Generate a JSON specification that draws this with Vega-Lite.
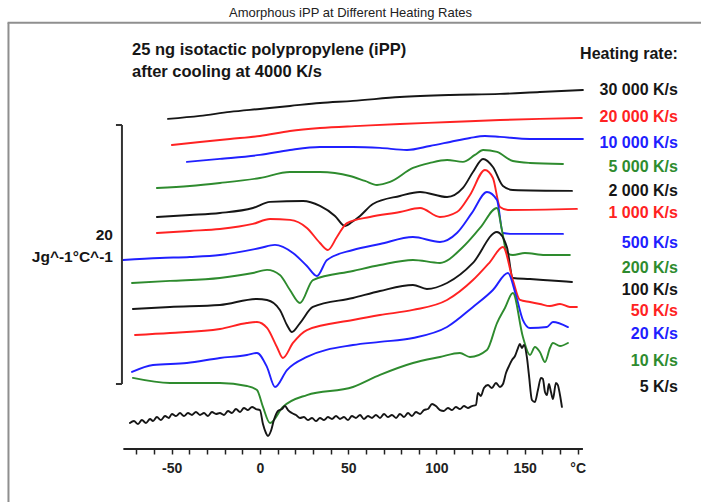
{
  "$schema": "https://vega.github.io/schema/vega-lite/v6.json",
  "width": 701,
  "height": 481,
  "autosize": "none",
  "padding": {"left": 0, "top": 21, "right": 0, "bottom": 0},
  "title": {"text": "Amorphous iPP at Different Heating Rates", "font": "Liberation Sans", "fontSize": 13, "fontWeight": "normal", "color": "#222222", "anchor": "middle", "offset": 1},
  "config": {"view": {"stroke": null}, "font": "Liberation Sans", "axisX": {"labelOverlap": false}},
  "resolve": {"axis": {"x": "independent"}},
  "datasets": {
    "dsc": [
      {"rate": "30 000 K/s", "T": -52.1, "cp": 29.58}, {"rate": "30 000 K/s", "T": -34.0, "cp": 29.81}, {"rate": "30 000 K/s", "T": -17.0, "cp": 30.12}, {"rate": "30 000 K/s", "T": 0.0, "cp": 30.35}, {"rate": "30 000 K/s", "T": 17.0, "cp": 30.58}, {"rate": "30 000 K/s", "T": 34.0, "cp": 30.81}, {"rate": "30 000 K/s", "T": 52.7, "cp": 30.97}, {"rate": "30 000 K/s", "T": 79.3, "cp": 31.27}, {"rate": "30 000 K/s", "T": 107.7, "cp": 31.43}, {"rate": "30 000 K/s", "T": 136.0, "cp": 31.51}, {"rate": "30 000 K/s", "T": 158.6, "cp": 31.66}, {"rate": "30 000 K/s", "T": 183.0, "cp": 31.81},

      {"rate": "20 000 K/s", "T": -49.9, "cp": 27.57}, {"rate": "20 000 K/s", "T": -34.0, "cp": 27.80}, {"rate": "20 000 K/s", "T": -17.0, "cp": 28.03}, {"rate": "20 000 K/s", "T": 0.0, "cp": 28.26}, {"rate": "20 000 K/s", "T": 17.0, "cp": 28.65}, {"rate": "20 000 K/s", "T": 34.0, "cp": 28.88}, {"rate": "20 000 K/s", "T": 56.7, "cp": 29.04}, {"rate": "20 000 K/s", "T": 79.3, "cp": 29.19}, {"rate": "20 000 K/s", "T": 107.7, "cp": 29.34}, {"rate": "20 000 K/s", "T": 136.0, "cp": 29.50}, {"rate": "20 000 K/s", "T": 158.6, "cp": 29.58}, {"rate": "20 000 K/s", "T": 182.4, "cp": 29.65},

      {"rate": "10 000 K/s", "T": -41.4, "cp": 26.26}, {"rate": "10 000 K/s", "T": -22.7, "cp": 26.49}, {"rate": "10 000 K/s", "T": 0.0, "cp": 26.80}, {"rate": "10 000 K/s", "T": 17.0, "cp": 27.18}, {"rate": "10 000 K/s", "T": 34.0, "cp": 27.41}, {"rate": "10 000 K/s", "T": 52.7, "cp": 27.41}, {"rate": "10 000 K/s", "T": 68.0, "cp": 27.34}, {"rate": "10 000 K/s", "T": 83.3, "cp": 27.18}, {"rate": "10 000 K/s", "T": 96.3, "cp": 27.49}, {"rate": "10 000 K/s", "T": 107.7, "cp": 27.80}, {"rate": "10 000 K/s", "T": 119.0, "cp": 28.11}, {"rate": "10 000 K/s", "T": 127.5, "cp": 28.26}, {"rate": "10 000 K/s", "T": 136.0, "cp": 28.19}, {"rate": "10 000 K/s", "T": 153.0, "cp": 28.03}, {"rate": "10 000 K/s", "T": 183.0, "cp": 28.03},

      {"rate": "5 000 K/s", "T": -58.4, "cp": 24.25}, {"rate": "5 000 K/s", "T": -39.7, "cp": 24.40}, {"rate": "5 000 K/s", "T": -22.7, "cp": 24.63}, {"rate": "5 000 K/s", "T": 0.0, "cp": 25.02}, {"rate": "5 000 K/s", "T": 17.0, "cp": 25.48}, {"rate": "5 000 K/s", "T": 34.0, "cp": 25.48}, {"rate": "5 000 K/s", "T": 51.0, "cp": 25.17}, {"rate": "5 000 K/s", "T": 59.5, "cp": 24.79}, {"rate": "5 000 K/s", "T": 66.3, "cp": 24.48}, {"rate": "5 000 K/s", "T": 73.7, "cp": 24.71}, {"rate": "5 000 K/s", "T": 86.7, "cp": 25.79}, {"rate": "5 000 K/s", "T": 96.3, "cp": 26.18}, {"rate": "5 000 K/s", "T": 106.0, "cp": 26.41}, {"rate": "5 000 K/s", "T": 115.0, "cp": 26.26}, {"rate": "5 000 K/s", "T": 121.8, "cp": 26.80}, {"rate": "5 000 K/s", "T": 126.4, "cp": 27.18}, {"rate": "5 000 K/s", "T": 134.3, "cp": 27.03}, {"rate": "5 000 K/s", "T": 143.3, "cp": 26.33}, {"rate": "5 000 K/s", "T": 153.0, "cp": 26.18}, {"rate": "5 000 K/s", "T": 171.7, "cp": 26.10},

      {"rate": "2 000 K/s", "T": -58.4, "cp": 22.01}, {"rate": "2 000 K/s", "T": -39.7, "cp": 22.16}, {"rate": "2 000 K/s", "T": -22.7, "cp": 22.32}, {"rate": "2 000 K/s", "T": -4.0, "cp": 22.70}, {"rate": "2 000 K/s", "T": 5.7, "cp": 23.17}, {"rate": "2 000 K/s", "T": 24.4, "cp": 23.24}, {"rate": "2 000 K/s", "T": 34.0, "cp": 22.86}, {"rate": "2 000 K/s", "T": 42.5, "cp": 22.09}, {"rate": "2 000 K/s", "T": 48.2, "cp": 21.31}, {"rate": "2 000 K/s", "T": 52.1, "cp": 21.62}, {"rate": "2 000 K/s", "T": 56.7, "cp": 22.09}, {"rate": "2 000 K/s", "T": 64.0, "cp": 23.01}, {"rate": "2 000 K/s", "T": 79.3, "cp": 23.63}, {"rate": "2 000 K/s", "T": 90.7, "cp": 23.94}, {"rate": "2 000 K/s", "T": 106.0, "cp": 23.55}, {"rate": "2 000 K/s", "T": 115.0, "cp": 24.25}, {"rate": "2 000 K/s", "T": 120.7, "cp": 25.48}, {"rate": "2 000 K/s", "T": 126.4, "cp": 26.49}, {"rate": "2 000 K/s", "T": 132.0, "cp": 25.87}, {"rate": "2 000 K/s", "T": 137.7, "cp": 24.40}, {"rate": "2 000 K/s", "T": 143.3, "cp": 24.09}, {"rate": "2 000 K/s", "T": 176.8, "cp": 24.02},

      {"rate": "1 000 K/s", "T": -58.4, "cp": 20.77}, {"rate": "1 000 K/s", "T": -39.7, "cp": 20.93}, {"rate": "1 000 K/s", "T": -22.7, "cp": 21.08}, {"rate": "1 000 K/s", "T": -4.0, "cp": 21.47}, {"rate": "1 000 K/s", "T": 5.7, "cp": 21.85}, {"rate": "1 000 K/s", "T": 17.0, "cp": 21.78}, {"rate": "1 000 K/s", "T": 26.6, "cp": 21.16}, {"rate": "1 000 K/s", "T": 34.0, "cp": 20.00}, {"rate": "1 000 K/s", "T": 38.5, "cp": 19.46}, {"rate": "1 000 K/s", "T": 43.6, "cp": 20.46}, {"rate": "1 000 K/s", "T": 49.3, "cp": 21.54}, {"rate": "1 000 K/s", "T": 62.3, "cp": 22.01}, {"rate": "1 000 K/s", "T": 79.3, "cp": 22.39}, {"rate": "1 000 K/s", "T": 90.7, "cp": 22.70}, {"rate": "1 000 K/s", "T": 102.0, "cp": 22.01}, {"rate": "1 000 K/s", "T": 111.6, "cp": 22.39}, {"rate": "1 000 K/s", "T": 119.0, "cp": 23.71}, {"rate": "1 000 K/s", "T": 127.5, "cp": 25.64}, {"rate": "1 000 K/s", "T": 132.0, "cp": 25.02}, {"rate": "1 000 K/s", "T": 136.0, "cp": 22.78}, {"rate": "1 000 K/s", "T": 140.5, "cp": 22.55}, {"rate": "1 000 K/s", "T": 179.6, "cp": 22.63},

      {"rate": "500 K/s", "T": -77.6, "cp": 18.69}, {"rate": "500 K/s", "T": -56.7, "cp": 18.84}, {"rate": "500 K/s", "T": -39.7, "cp": 18.92}, {"rate": "500 K/s", "T": -22.7, "cp": 19.07}, {"rate": "500 K/s", "T": 0.0, "cp": 19.61}, {"rate": "500 K/s", "T": 8.5, "cp": 19.85}, {"rate": "500 K/s", "T": 18.7, "cp": 19.23}, {"rate": "500 K/s", "T": 26.6, "cp": 18.22}, {"rate": "500 K/s", "T": 32.3, "cp": 17.45}, {"rate": "500 K/s", "T": 38.0, "cp": 18.69}, {"rate": "500 K/s", "T": 52.7, "cp": 19.46}, {"rate": "500 K/s", "T": 68.0, "cp": 19.92}, {"rate": "500 K/s", "T": 86.7, "cp": 20.46}, {"rate": "500 K/s", "T": 102.0, "cp": 20.08}, {"rate": "500 K/s", "T": 111.6, "cp": 20.77}, {"rate": "500 K/s", "T": 120.1, "cp": 22.32}, {"rate": "500 K/s", "T": 128.6, "cp": 23.94}, {"rate": "500 K/s", "T": 134.3, "cp": 23.32}, {"rate": "500 K/s", "T": 137.7, "cp": 20.77}, {"rate": "500 K/s", "T": 143.3, "cp": 20.70}, {"rate": "500 K/s", "T": 171.7, "cp": 20.70},

      {"rate": "200 K/s", "T": -72.5, "cp": 16.91}, {"rate": "200 K/s", "T": -51.0, "cp": 17.07}, {"rate": "200 K/s", "T": -22.7, "cp": 17.30}, {"rate": "200 K/s", "T": -4.0, "cp": 17.68}, {"rate": "200 K/s", "T": 4.0, "cp": 17.92}, {"rate": "200 K/s", "T": 11.3, "cp": 17.53}, {"rate": "200 K/s", "T": 17.0, "cp": 16.37}, {"rate": "200 K/s", "T": 22.7, "cp": 15.37}, {"rate": "200 K/s", "T": 30.0, "cp": 17.14}, {"rate": "200 K/s", "T": 52.7, "cp": 17.84}, {"rate": "200 K/s", "T": 68.0, "cp": 18.30}, {"rate": "200 K/s", "T": 86.7, "cp": 18.69}, {"rate": "200 K/s", "T": 102.0, "cp": 18.46}, {"rate": "200 K/s", "T": 115.0, "cp": 19.69}, {"rate": "200 K/s", "T": 124.7, "cp": 21.16}, {"rate": "200 K/s", "T": 134.3, "cp": 22.70}, {"rate": "200 K/s", "T": 137.1, "cp": 21.00}, {"rate": "200 K/s", "T": 139.9, "cp": 19.23}, {"rate": "200 K/s", "T": 143.3, "cp": 19.07}, {"rate": "200 K/s", "T": 150.1, "cp": 19.23}, {"rate": "200 K/s", "T": 161.5, "cp": 19.07}, {"rate": "200 K/s", "T": 175.6, "cp": 19.07},

      {"rate": "100 K/s", "T": -72.0, "cp": 14.90}, {"rate": "100 K/s", "T": -51.0, "cp": 15.06}, {"rate": "100 K/s", "T": -22.7, "cp": 15.21}, {"rate": "100 K/s", "T": -1.7, "cp": 15.68}, {"rate": "100 K/s", "T": 4.0, "cp": 15.60}, {"rate": "100 K/s", "T": 11.3, "cp": 14.83}, {"rate": "100 K/s", "T": 15.3, "cp": 13.67}, {"rate": "100 K/s", "T": 18.1, "cp": 13.13}, {"rate": "100 K/s", "T": 22.7, "cp": 13.82}, {"rate": "100 K/s", "T": 30.0, "cp": 15.06}, {"rate": "100 K/s", "T": 52.7, "cp": 15.75}, {"rate": "100 K/s", "T": 68.0, "cp": 16.29}, {"rate": "100 K/s", "T": 86.7, "cp": 16.76}, {"rate": "100 K/s", "T": 94.6, "cp": 16.45}, {"rate": "100 K/s", "T": 106.0, "cp": 16.91}, {"rate": "100 K/s", "T": 120.7, "cp": 18.46}, {"rate": "100 K/s", "T": 134.3, "cp": 20.85}, {"rate": "100 K/s", "T": 139.9, "cp": 19.69}, {"rate": "100 K/s", "T": 143.3, "cp": 17.30}, {"rate": "100 K/s", "T": 153.0, "cp": 17.22}, {"rate": "100 K/s", "T": 165.0, "cp": 17.10}, {"rate": "100 K/s", "T": 176.8, "cp": 16.99},

      {"rate": "50 K/s", "T": -70.8, "cp": 12.90}, {"rate": "50 K/s", "T": -51.0, "cp": 13.05}, {"rate": "50 K/s", "T": -22.7, "cp": 13.36}, {"rate": "50 K/s", "T": -7.4, "cp": 13.82}, {"rate": "50 K/s", "T": -1.7, "cp": 13.90}, {"rate": "50 K/s", "T": 4.0, "cp": 13.44}, {"rate": "50 K/s", "T": 9.6, "cp": 11.97}, {"rate": "50 K/s", "T": 13.0, "cp": 11.12}, {"rate": "50 K/s", "T": 18.7, "cp": 12.28}, {"rate": "50 K/s", "T": 26.6, "cp": 13.28}, {"rate": "50 K/s", "T": 52.7, "cp": 14.05}, {"rate": "50 K/s", "T": 68.0, "cp": 14.44}, {"rate": "50 K/s", "T": 86.7, "cp": 14.83}, {"rate": "50 K/s", "T": 106.0, "cp": 15.60}, {"rate": "50 K/s", "T": 120.7, "cp": 17.14}, {"rate": "50 K/s", "T": 130.3, "cp": 18.53}, {"rate": "50 K/s", "T": 137.7, "cp": 19.69}, {"rate": "50 K/s", "T": 143.3, "cp": 17.14}, {"rate": "50 K/s", "T": 147.3, "cp": 15.60}, {"rate": "50 K/s", "T": 153.0, "cp": 15.44}, {"rate": "50 K/s", "T": 158.6, "cp": 15.29}, {"rate": "50 K/s", "T": 164.3, "cp": 15.13}, {"rate": "50 K/s", "T": 170.0, "cp": 15.29}, {"rate": "50 K/s", "T": 175.6, "cp": 15.06}, {"rate": "50 K/s", "T": 179.6, "cp": 15.06},

      {"rate": "20 K/s", "T": -72.5, "cp": 10.04}, {"rate": "20 K/s", "T": -60.6, "cp": 10.58}, {"rate": "20 K/s", "T": -41.4, "cp": 10.73}, {"rate": "20 K/s", "T": -22.7, "cp": 11.12}, {"rate": "20 K/s", "T": -7.4, "cp": 11.35}, {"rate": "20 K/s", "T": -1.7, "cp": 11.51}, {"rate": "20 K/s", "T": 4.0, "cp": 10.42}, {"rate": "20 K/s", "T": 8.5, "cp": 8.88}, {"rate": "20 K/s", "T": 15.3, "cp": 10.19}, {"rate": "20 K/s", "T": 26.6, "cp": 11.20}, {"rate": "20 K/s", "T": 52.7, "cp": 12.12}, {"rate": "20 K/s", "T": 68.0, "cp": 12.36}, {"rate": "20 K/s", "T": 86.7, "cp": 12.66}, {"rate": "20 K/s", "T": 106.0, "cp": 13.51}, {"rate": "20 K/s", "T": 120.7, "cp": 15.06}, {"rate": "20 K/s", "T": 132.0, "cp": 16.37}, {"rate": "20 K/s", "T": 140.5, "cp": 17.68}, {"rate": "20 K/s", "T": 145.0, "cp": 15.98}, {"rate": "20 K/s", "T": 149.0, "cp": 14.05}, {"rate": "20 K/s", "T": 153.0, "cp": 13.44}, {"rate": "20 K/s", "T": 162.6, "cp": 13.51}, {"rate": "20 K/s", "T": 166.0, "cp": 13.90}, {"rate": "20 K/s", "T": 174.5, "cp": 13.51},

      {"rate": "10 K/s", "T": -72.0, "cp": 9.58}, {"rate": "10 K/s", "T": -51.0, "cp": 9.19}, {"rate": "10 K/s", "T": -22.7, "cp": 9.19}, {"rate": "10 K/s", "T": -7.4, "cp": 8.96}, {"rate": "10 K/s", "T": -1.7, "cp": 8.65}, {"rate": "10 K/s", "T": 1.7, "cp": 7.34}, {"rate": "10 K/s", "T": 5.7, "cp": 6.10}, {"rate": "10 K/s", "T": 13.0, "cp": 7.34}, {"rate": "10 K/s", "T": 26.6, "cp": 8.26}, {"rate": "10 K/s", "T": 52.7, "cp": 8.88}, {"rate": "10 K/s", "T": 68.0, "cp": 9.81}, {"rate": "10 K/s", "T": 86.7, "cp": 10.73}, {"rate": "10 K/s", "T": 102.0, "cp": 11.20}, {"rate": "10 K/s", "T": 113.3, "cp": 11.51}, {"rate": "10 K/s", "T": 119.0, "cp": 11.20}, {"rate": "10 K/s", "T": 128.6, "cp": 11.74}, {"rate": "10 K/s", "T": 134.3, "cp": 13.82}, {"rate": "10 K/s", "T": 138.8, "cp": 14.98}, {"rate": "10 K/s", "T": 143.3, "cp": 16.14}, {"rate": "10 K/s", "T": 149.0, "cp": 12.74}, {"rate": "10 K/s", "T": 153.0, "cp": 11.35}, {"rate": "10 K/s", "T": 155.8, "cp": 11.97}, {"rate": "10 K/s", "T": 158.6, "cp": 11.58}, {"rate": "10 K/s", "T": 161.5, "cp": 10.81}, {"rate": "10 K/s", "T": 164.3, "cp": 11.89}, {"rate": "10 K/s", "T": 166.0, "cp": 12.28}, {"rate": "10 K/s", "T": 170.0, "cp": 12.05}, {"rate": "10 K/s", "T": 174.5, "cp": 12.28},

      {"rate": "5 K/s", "T": -73.7, "cp": 6.10}, {"rate": "5 K/s", "T": -71.4, "cp": 6.25}, {"rate": "5 K/s", "T": -69.1, "cp": 6.02}, {"rate": "5 K/s", "T": -66.9, "cp": 6.33}, {"rate": "5 K/s", "T": -64.6, "cp": 6.10}, {"rate": "5 K/s", "T": -62.3, "cp": 6.41}, {"rate": "5 K/s", "T": -60.6, "cp": 6.25}, {"rate": "5 K/s", "T": -58.4, "cp": 6.56}, {"rate": "5 K/s", "T": -56.1, "cp": 6.33}, {"rate": "5 K/s", "T": -53.8, "cp": 6.64}, {"rate": "5 K/s", "T": -51.6, "cp": 6.49}, {"rate": "5 K/s", "T": -49.9, "cp": 6.80}, {"rate": "5 K/s", "T": -47.6, "cp": 6.64}, {"rate": "5 K/s", "T": -45.3, "cp": 6.87}, {"rate": "5 K/s", "T": -43.1, "cp": 6.64}, {"rate": "5 K/s", "T": -40.8, "cp": 6.87}, {"rate": "5 K/s", "T": -38.5, "cp": 6.72}, {"rate": "5 K/s", "T": -36.3, "cp": 6.95}, {"rate": "5 K/s", "T": -34.0, "cp": 6.72}, {"rate": "5 K/s", "T": -31.7, "cp": 6.87}, {"rate": "5 K/s", "T": -29.5, "cp": 6.64}, {"rate": "5 K/s", "T": -27.2, "cp": 6.95}, {"rate": "5 K/s", "T": -24.9, "cp": 6.80}, {"rate": "5 K/s", "T": -22.7, "cp": 6.87}, {"rate": "5 K/s", "T": -20.4, "cp": 6.72}, {"rate": "5 K/s", "T": -18.1, "cp": 7.03}, {"rate": "5 K/s", "T": -15.9, "cp": 6.87}, {"rate": "5 K/s", "T": -13.6, "cp": 7.18}, {"rate": "5 K/s", "T": -11.3, "cp": 6.95}, {"rate": "5 K/s", "T": -9.1, "cp": 7.26}, {"rate": "5 K/s", "T": -6.8, "cp": 7.10}, {"rate": "5 K/s", "T": -4.5, "cp": 7.34}, {"rate": "5 K/s", "T": -2.3, "cp": 7.18}, {"rate": "5 K/s", "T": 0.0, "cp": 7.10}, {"rate": "5 K/s", "T": 1.7, "cp": 6.02}, {"rate": "5 K/s", "T": 3.4, "cp": 5.33}, {"rate": "5 K/s", "T": 4.5, "cp": 5.10}, {"rate": "5 K/s", "T": 6.2, "cp": 5.48}, {"rate": "5 K/s", "T": 7.9, "cp": 6.33}, {"rate": "5 K/s", "T": 10.2, "cp": 7.03}, {"rate": "5 K/s", "T": 12.5, "cp": 7.18}, {"rate": "5 K/s", "T": 14.2, "cp": 7.41}, {"rate": "5 K/s", "T": 15.9, "cp": 7.10}, {"rate": "5 K/s", "T": 18.1, "cp": 6.87}, {"rate": "5 K/s", "T": 20.4, "cp": 6.72}, {"rate": "5 K/s", "T": 22.7, "cp": 6.49}, {"rate": "5 K/s", "T": 24.9, "cp": 6.56}, {"rate": "5 K/s", "T": 27.2, "cp": 6.33}, {"rate": "5 K/s", "T": 29.5, "cp": 6.49}, {"rate": "5 K/s", "T": 31.7, "cp": 6.25}, {"rate": "5 K/s", "T": 34.0, "cp": 6.49}, {"rate": "5 K/s", "T": 36.3, "cp": 6.33}, {"rate": "5 K/s", "T": 38.5, "cp": 6.56}, {"rate": "5 K/s", "T": 40.8, "cp": 6.41}, {"rate": "5 K/s", "T": 43.1, "cp": 6.64}, {"rate": "5 K/s", "T": 45.3, "cp": 6.41}, {"rate": "5 K/s", "T": 47.6, "cp": 6.56}, {"rate": "5 K/s", "T": 49.9, "cp": 6.33}, {"rate": "5 K/s", "T": 52.1, "cp": 6.64}, {"rate": "5 K/s", "T": 54.4, "cp": 6.49}, {"rate": "5 K/s", "T": 56.7, "cp": 6.72}, {"rate": "5 K/s", "T": 58.9, "cp": 6.41}, {"rate": "5 K/s", "T": 61.2, "cp": 6.64}, {"rate": "5 K/s", "T": 63.5, "cp": 6.49}, {"rate": "5 K/s", "T": 65.7, "cp": 6.72}, {"rate": "5 K/s", "T": 68.0, "cp": 6.49}, {"rate": "5 K/s", "T": 70.3, "cp": 6.80}, {"rate": "5 K/s", "T": 72.5, "cp": 6.56}, {"rate": "5 K/s", "T": 74.8, "cp": 6.72}, {"rate": "5 K/s", "T": 77.1, "cp": 6.49}, {"rate": "5 K/s", "T": 79.3, "cp": 6.80}, {"rate": "5 K/s", "T": 81.6, "cp": 6.56}, {"rate": "5 K/s", "T": 83.9, "cp": 6.87}, {"rate": "5 K/s", "T": 86.1, "cp": 6.64}, {"rate": "5 K/s", "T": 88.4, "cp": 6.95}, {"rate": "5 K/s", "T": 90.7, "cp": 6.80}, {"rate": "5 K/s", "T": 92.9, "cp": 7.10}, {"rate": "5 K/s", "T": 95.2, "cp": 7.18}, {"rate": "5 K/s", "T": 97.5, "cp": 7.57}, {"rate": "5 K/s", "T": 99.7, "cp": 7.41}, {"rate": "5 K/s", "T": 102.0, "cp": 7.10}, {"rate": "5 K/s", "T": 104.2, "cp": 7.03}, {"rate": "5 K/s", "T": 106.5, "cp": 7.26}, {"rate": "5 K/s", "T": 108.8, "cp": 7.10}, {"rate": "5 K/s", "T": 111.0, "cp": 7.34}, {"rate": "5 K/s", "T": 113.3, "cp": 7.18}, {"rate": "5 K/s", "T": 115.6, "cp": 7.41}, {"rate": "5 K/s", "T": 117.8, "cp": 7.26}, {"rate": "5 K/s", "T": 120.1, "cp": 7.41}, {"rate": "5 K/s", "T": 122.4, "cp": 7.49}, {"rate": "5 K/s", "T": 123.5, "cp": 8.42}, {"rate": "5 K/s", "T": 125.2, "cp": 8.19}, {"rate": "5 K/s", "T": 126.9, "cp": 8.80}, {"rate": "5 K/s", "T": 129.2, "cp": 9.03}, {"rate": "5 K/s", "T": 131.4, "cp": 8.80}, {"rate": "5 K/s", "T": 133.7, "cp": 9.19}, {"rate": "5 K/s", "T": 136.0, "cp": 8.88}, {"rate": "5 K/s", "T": 137.7, "cp": 9.11}, {"rate": "5 K/s", "T": 139.4, "cp": 9.96}, {"rate": "5 K/s", "T": 141.1, "cp": 10.50}, {"rate": "5 K/s", "T": 142.8, "cp": 10.97}, {"rate": "5 K/s", "T": 144.5, "cp": 11.27}, {"rate": "5 K/s", "T": 146.2, "cp": 11.89}, {"rate": "5 K/s", "T": 147.3, "cp": 12.20}, {"rate": "5 K/s", "T": 148.4, "cp": 11.89}, {"rate": "5 K/s", "T": 149.6, "cp": 12.12}, {"rate": "5 K/s", "T": 151.3, "cp": 11.12}, {"rate": "5 K/s", "T": 152.4, "cp": 9.81}, {"rate": "5 K/s", "T": 154.1, "cp": 7.88}, {"rate": "5 K/s", "T": 155.8, "cp": 7.72}, {"rate": "5 K/s", "T": 157.5, "cp": 8.65}, {"rate": "5 K/s", "T": 159.2, "cp": 9.58}, {"rate": "5 K/s", "T": 160.3, "cp": 9.50}, {"rate": "5 K/s", "T": 161.5, "cp": 8.49}, {"rate": "5 K/s", "T": 162.6, "cp": 8.26}, {"rate": "5 K/s", "T": 163.7, "cp": 9.11}, {"rate": "5 K/s", "T": 164.9, "cp": 8.49}, {"rate": "5 K/s", "T": 166.0, "cp": 7.95}, {"rate": "5 K/s", "T": 167.7, "cp": 9.19}, {"rate": "5 K/s", "T": 168.8, "cp": 9.03}, {"rate": "5 K/s", "T": 170.0, "cp": 8.26}, {"rate": "5 K/s", "T": 171.1, "cp": 7.34}
    ],
    "rates": [
      {"rate": "30 000 K/s", "level": 31.81},
      {"rate": "20 000 K/s", "level": 29.73},
      {"rate": "10 000 K/s", "level": 27.72},
      {"rate": "5 000 K/s", "level": 25.87},
      {"rate": "2 000 K/s", "level": 24.02},
      {"rate": "1 000 K/s", "level": 22.32},
      {"rate": "500 K/s", "level": 20.00},
      {"rate": "200 K/s", "level": 18.07},
      {"rate": "100 K/s", "level": 16.37},
      {"rate": "50 K/s", "level": 14.75},
      {"rate": "20 K/s", "level": 12.97},
      {"rate": "10 K/s", "level": 10.89},
      {"rate": "5 K/s", "level": 8.88}
    ],
    "frameleft": [
      {"x1": -142.5, "y1": 0, "y2": 37.0}
    ],
    "frametop": [
      {"x1": -143.0, "x2": 249.9, "y1": 37.0}
    ],
    "axisline": [
      {"x1": -77.4, "x2": 183.0, "y1": 4.09}
    ],
    "scalebar": [
      {"x1": -78.2, "x2": -78.2, "y1": 9.11, "y2": 29.11},
      {"x1": -81.6, "x2": -78.2, "y1": 29.11, "y2": 29.11},
      {"x1": -81.6, "x2": -78.2, "y1": 9.11, "y2": 9.11}
    ],
    "heading": [
      {"line": "Heating rate:", "T": 236.8, "at": 34.6}
    ],
    "sample": [
      {"line": "25 ng isotactic polypropylene (iPP)", "T": -72.5, "at": 34.9},
      {"line": "after cooling at 4000 K/s", "T": -72.5, "at": 33.2}
    ],
    "barcaption": [
      {"line": "20", "at": 20.62},
      {"line": "Jg^-1°C^-1", "at": 18.92}
    ]
  },
  "layer": [
    {
      "data": {"name": "frameleft"},
      "mark": {"type": "rule", "color": "#8f8f8f", "strokeWidth": 2},
      "encoding": {
        "x": {
          "field": "x1", "type": "quantitative",
          "scale": {"domain": [-147.3, 249.9], "nice": false, "zero": false},
          "axis": {
            "orient": "bottom", "offset": -53, "domain": false, "grid": false, "title": null, "labels": false,
            "values": [-70, -60, -50, -40, -30, -20, -10, 0, 10, 20, 30, 40, 50, 60, 70, 80, 90, 100, 110, 120, 130, 140, 150, 160, 170, 180],
            "tickSize": 5, "tickWidth": 1.5, "tickColor": "#222222"
          }
        },
        "y": {"field": "y1", "type": "quantitative", "scale": {"domain": [0, 37.14], "nice": false, "zero": false}, "axis": null},
        "y2": {"field": "y2"}
      }
    },
    {
      "data": {"name": "frametop"},
      "mark": {"type": "rule", "color": "#8f8f8f", "strokeWidth": 2},
      "encoding": {
        "x": {"field": "x1", "type": "quantitative", "axis": null},
        "x2": {"field": "x2"},
        "y": {"field": "y1", "type": "quantitative"}
      }
    },
    {
      "data": {"name": "axisline"},
      "mark": {"type": "rule", "color": "#222222", "strokeWidth": 2},
      "encoding": {
        "x": {"field": "x1", "type": "quantitative", "axis": null},
        "x2": {"field": "x2"},
        "y": {"field": "y1", "type": "quantitative"}
      }
    },
    {
      "data": {"name": "dsc"},
      "mark": {"type": "line", "strokeWidth": 1.9, "strokeJoin": "round", "strokeCap": "round", "interpolate": "monotone"},
      "encoding": {
        "x": {
          "field": "T", "type": "quantitative",
          "axis": {
            "orient": "bottom", "offset": -53, "domain": false, "grid": false, "title": null, "ticks": false,
            "values": [-50, 0, 50, 100, 150, 180],
            "labelExpr": "datum.value == 180 ? '°C' : '' + datum.value",
            "labelFont": "Liberation Sans", "labelFontSize": 14, "labelFontWeight": "bold", "labelColor": "#222222",
            "labelPadding": 12, "labelOverlap": false, "labelFlush": false, "labelBound": false
          }
        },
        "y": {"field": "cp", "type": "quantitative"},
        "color": {
          "field": "rate", "type": "nominal", "legend": null,
          "scale": {
            "domain": ["30 000 K/s", "20 000 K/s", "10 000 K/s", "5 000 K/s", "2 000 K/s", "1 000 K/s", "500 K/s", "200 K/s", "100 K/s", "50 K/s", "20 K/s", "10 K/s", "5 K/s"],
            "range": ["#161616", "#ff2222", "#2020ff", "#2e8b2e", "#161616", "#ff2222", "#2020ff", "#2e8b2e", "#161616", "#ff2222", "#2020ff", "#2e8b2e", "#161616"]
          }
        }
      }
    },
    {
      "data": {"name": "rates"},
      "transform": [{"calculate": "236.8", "as": "T"}],
      "mark": {"type": "text", "align": "right", "baseline": "middle", "font": "Liberation Sans", "fontSize": 16, "fontWeight": "bold"},
      "encoding": {
        "x": {"field": "T", "type": "quantitative", "axis": null},
        "y": {"field": "level", "type": "quantitative"},
        "text": {"field": "rate"},
        "color": {"field": "rate", "type": "nominal", "legend": null}
      }
    },
    {
      "data": {"name": "heading"},
      "mark": {"type": "text", "align": "right", "baseline": "middle", "font": "Liberation Sans", "fontSize": 16, "fontWeight": "bold", "color": "#161616"},
      "encoding": {
        "x": {"field": "T", "type": "quantitative", "axis": null},
        "y": {"field": "at", "type": "quantitative"},
        "text": {"field": "line"}
      }
    },
    {
      "data": {"name": "sample"},
      "mark": {"type": "text", "align": "left", "baseline": "middle", "font": "Liberation Sans", "fontSize": 16.5, "fontWeight": "bold", "color": "#161616"},
      "encoding": {
        "x": {"field": "T", "type": "quantitative", "axis": null},
        "y": {"field": "at", "type": "quantitative"},
        "text": {"field": "line"}
      }
    },
    {
      "data": {"name": "scalebar"},
      "mark": {"type": "rule", "color": "#333333", "strokeWidth": 2},
      "encoding": {
        "x": {"field": "x1", "type": "quantitative", "axis": null},
        "x2": {"field": "x2"},
        "y": {"field": "y1", "type": "quantitative"},
        "y2": {"field": "y2"}
      }
    },
    {
      "data": {"name": "barcaption"},
      "transform": [{"calculate": "-83.3", "as": "T"}],
      "mark": {"type": "text", "align": "right", "baseline": "middle", "font": "Liberation Sans", "fontSize": 15.5, "fontWeight": "bold", "color": "#161616"},
      "encoding": {
        "x": {"field": "T", "type": "quantitative", "axis": null},
        "y": {"field": "at", "type": "quantitative"},
        "text": {"field": "line"}
      }
    }
  ]
}
